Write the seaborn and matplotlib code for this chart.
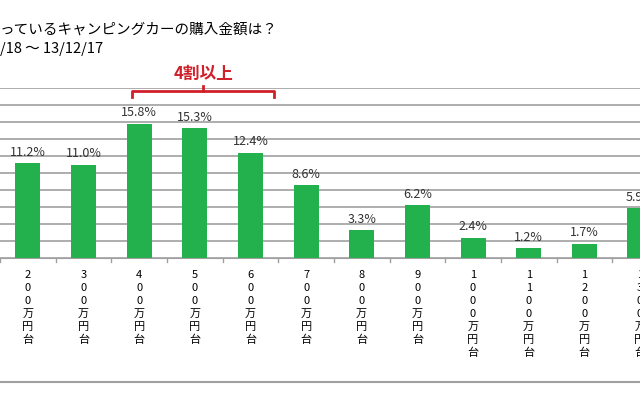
import matplotlib.pyplot as plt
import seaborn as sns
import pandas as pd
import numpy as np

plt.rcParams['font.family'] = ['Noto Sans CJK JP', 'DejaVu Sans']

# データ
categories = ['200万円台', '300万円台', '400万円台', '500万円台', '600万円台', '700万円台',
              '800万円台', '900万円台', '1000万円台', '1100万円台', '1200万円台', '1300万円台']
values = [11.2, 11.0, 15.8, 15.3, 12.4, 8.6, 3.3, 6.2, 2.4, 1.2, 1.7, 5.9]
title_text = 'っているキャンピングカーの購入金額は？'
period_text = '/18 ～ 13/12/17'
note_text = '4割以上'

df = pd.DataFrame({'cat': categories, 'val': values})

fig = plt.figure(figsize=(6.4, 4.0), dpi=100)
ax = fig.add_axes([0.0, 0.355, 1.0, 0.425])

sns.barplot(data=df, x='cat', y='val', color='#22b14c', saturation=1, width=0.45, ax=ax)

ax.set_ylim(0, 20)
ax.set_xlim(-0.5, 10.85)
ax.set_yticks(np.arange(0, 21, 2))
ax.yaxis.grid(True, color='#a0a0a0', linewidth=1.2)
ax.set_axisbelow(True)
ax.tick_params(axis='y', length=0, labelleft=False)
for s in ['top', 'right', 'left']:
    ax.spines[s].set_visible(False)
ax.spines['bottom'].set_color('#a0a0a0')
ax.set_xlabel('')
ax.set_ylabel('')

# 縦書きラベル
labels = []
for c in categories:
    num = c.replace('万円台', '')
    labels.append('\n'.join(list(num)) + '\n万\n円\n台')
ax.set_xticks(range(len(categories)))
ax.set_xticklabels(labels, fontsize=8, linespacing=1.35, va='top')
ax.tick_params(axis='x', length=0, pad=9)
for b in np.arange(-0.5, len(categories), 1):
    ax.plot([b, b], [0, -0.5], color='#a0a0a0', lw=1, clip_on=False)

# 値ラベル
for i, v in enumerate(values):
    ax.text(i, v + 0.5, f'{v}%', ha='center', va='bottom', fontsize=9, color='#333333')

# 括弧
y0, y1 = 18.9, 19.7
ax.plot([1.87, 1.87, 4.43, 4.43], [y0, y1, y1, y0], color='#d0202a', lw=2, clip_on=False)
ax.plot([3.15, 3.15], [y1, y1 + 0.5], color='#d0202a', lw=2, clip_on=False)
ax.text(3.15, 20.6, note_text, ha='center', va='bottom', fontsize=12,
        color='#d0202a', fontweight='bold')

fig.text(0.0, 0.925, title_text, fontsize=10.5, ha='left', va='center')
fig.text(0.0, 0.878, period_text, fontsize=10.5, ha='left', va='center')
fig.add_artist(plt.Line2D([0, 1], [0.045, 0.045], color='#a0a0a0', lw=1.5))

fig.savefig('out.png', dpi=100)
